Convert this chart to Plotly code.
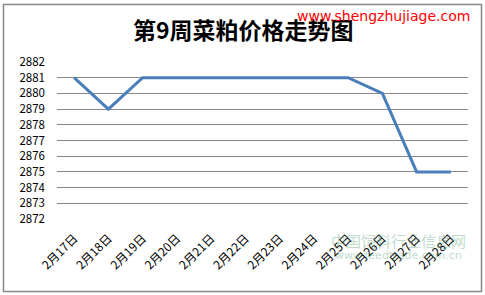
import plotly.graph_objects as go

dates = ["2月17日", "2月18日", "2月19日", "2月20日", "2月21日", "2月22日",
         "2月23日", "2月24日", "2月25日", "2月26日", "2月27日", "2月28日"]
prices = [2881, 2879, 2881, 2881, 2881, 2881, 2881, 2881, 2881, 2880, 2875, 2875]
y_ticks = list(range(2872, 2883))

fig = go.Figure()
fig.add_trace(go.Scatter(x=dates, y=prices, mode="lines",
                         line=dict(color="#4A7EBB", width=3), showlegend=False))

L, R, T, B = 57, 17, 62, 76
W, H = 485, 295
pw, ph = W - L - R, H - T - B

def px_x(x):
    return (x - L) / pw

def px_y(y):
    return (H - B - y) / ph

fig.update_layout(
    width=W, height=H,
    margin=dict(l=L, r=R, t=T, b=B),
    paper_bgcolor="white", plot_bgcolor="white",
    font=dict(family="Noto Sans CJK SC, DejaVu Sans", size=11, color="black"),
    xaxis=dict(type="category", range=[-0.5, 11.5], tickangle=-45,
               showgrid=False, showline=False, ticks="", ticklabelstandoff=9,
               tickfont=dict(size=12)),
    yaxis=dict(range=[2872, 2882], tickvals=y_ticks, showgrid=True,
               gridcolor="#888888", gridwidth=1, zeroline=False, showline=False,
               ticks="", ticklabelstandoff=11, tickfont=dict(size=11.5)),
    shapes=[dict(type="rect", xref="paper", yref="paper",
                 x0=px_x(3.5), x1=px_x(481.5), y0=px_y(291.5), y1=px_y(4.5),
                 line=dict(color="#868686", width=1.5), layer="below")],
    annotations=[
        dict(text="<b>第9周菜粕价格走势图</b>", xref="paper", yref="paper",
             x=px_x(243), y=px_y(29), xanchor="center", yanchor="middle",
             showarrow=False, font=dict(size=23, color="black",
                                        family="Noto Sans CJK SC")),
        dict(text="www.shengzhujiage.com", xref="paper", yref="paper",
             x=px_x(472), y=px_y(16), xanchor="right", yanchor="middle",
             showarrow=False, font=dict(size=14, color="#FF0000",
                                        family="DejaVu Sans")),
        dict(text="中国饲料行业信息网", xref="paper", yref="paper",
             x=px_x(398), y=px_y(240), xanchor="center", yanchor="middle",
             showarrow=False, opacity=0.3,
             font=dict(size=15, color="#2E8B57", family="Noto Sans CJK SC")),
        dict(text="www.feedtrade.com.cn", xref="paper", yref="paper",
             x=px_x(398), y=px_y(255), xanchor="center", yanchor="middle",
             showarrow=False, opacity=0.3,
             font=dict(size=11, color="#2E8B57", family="DejaVu Sans")),
    ],
)

fig.write_html("out.html")
